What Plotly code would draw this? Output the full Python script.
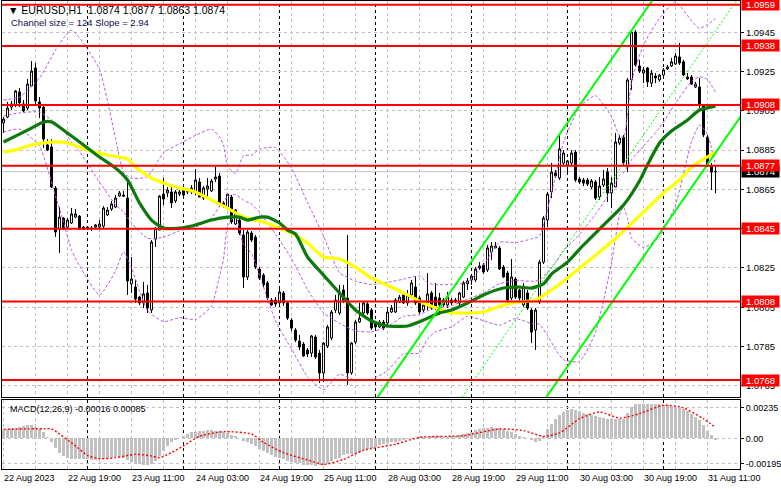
import plotly.graph_objects as go

# ---------------- data (EURUSD H1, 22 Aug 03:00 -> 31 Aug 13:00) ----------------
bars = list(range(179))
opens = [1.08988,1.09018,1.09069,1.09080,1.09146,1.09085,1.09064,1.09176,1.09268,1.09095,
1.09069,1.08876,1.08866,1.08657,1.08448,1.08504,1.08458,1.08479,1.08509,1.08514,
1.08458,1.08458,1.08448,1.08458,1.08458,1.08463,1.08520,1.08550,1.08560,1.08616,
1.08621,1.08606,1.08169,1.08153,1.08102,1.08072,1.08123,1.08036,1.08397,1.08443,
1.08626,1.08632,1.08637,1.08591,1.08626,1.08647,1.08637,1.08637,1.08637,1.08688,
1.08606,1.08652,1.08642,1.08703,1.08718,1.08581,1.08555,1.08611,1.08474,1.08494,
1.08418,1.08204,1.08428,1.08407,1.08245,1.08214,1.08174,1.08087,1.08087,1.08072,
1.08123,1.08072,1.07985,1.07934,1.07878,1.07863,1.07833,1.07817,1.07899,1.07817,
1.07716,1.07853,1.07894,1.08036,1.08021,1.08138,1.08097,1.07716,1.07873,1.07975,
1.08021,1.08067,1.08036,1.07970,1.07950,1.07975,1.07970,1.08026,1.08026,1.08077,
1.08113,1.08072,1.08113,1.08153,1.08097,1.08036,1.08072,1.08123,1.08102,1.08097,
1.08087,1.08062,1.08087,1.08087,1.08072,1.08102,1.08169,1.08189,1.08189,1.08250,
1.08265,1.08240,1.08331,1.08352,1.08352,1.08255,1.08224,1.08097,1.08194,1.08138,
1.08062,1.08123,1.08036,1.07934,1.08077,1.08280,1.08494,1.08637,1.08734,1.08708,
1.08784,1.08774,1.08784,1.08840,1.08703,1.08698,1.08698,1.08662,1.08688,1.08611,
1.08672,1.08739,1.08632,1.08662,1.08886,1.08916,1.08764,1.09207,1.09451,1.09278,
1.09242,1.09268,1.09191,1.09227,1.09207,1.09232,1.09263,1.09278,1.09288,1.09324,
1.09299,1.09222,1.09222,1.09171,1.09171,1.09080,1.08916,1.08769,1.0874]
highs = [1.09018,1.09095,1.09100,1.09156,1.09166,1.09105,1.09212,1.09303,1.09293,1.09120,
1.09080,1.08906,1.08906,1.08667,1.08560,1.08509,1.08504,1.08555,1.08550,1.08520,
1.08463,1.08463,1.08463,1.08474,1.08494,1.08565,1.08560,1.08591,1.08621,1.08642,
1.08642,1.08708,1.08306,1.08189,1.08108,1.08179,1.08164,1.08392,1.08458,1.08621,
1.08708,1.08662,1.08672,1.08647,1.08647,1.08657,1.08657,1.08672,1.08754,1.08708,
1.08667,1.08708,1.08703,1.08764,1.08734,1.08591,1.08626,1.08621,1.08550,1.08509,
1.08443,1.08443,1.08438,1.08418,1.08255,1.08224,1.08184,1.08097,1.08102,1.08143,
1.08133,1.08082,1.07995,1.07944,1.07909,1.07873,1.07843,1.07909,1.07909,1.07833,
1.07873,1.07960,1.08036,1.08113,1.08164,1.08164,1.08418,1.07873,1.07985,1.08072,
1.08082,1.08077,1.08046,1.07980,1.07985,1.07985,1.08051,1.08062,1.08097,1.08113,
1.08128,1.08138,1.08189,1.08209,1.08108,1.08072,1.08224,1.08133,1.08174,1.08123,
1.08097,1.08128,1.08097,1.08097,1.08128,1.08184,1.08199,1.08219,1.08255,1.08280,
1.08275,1.08367,1.08382,1.08382,1.08362,1.08265,1.08235,1.08296,1.08204,1.08143,
1.08174,1.08138,1.08046,1.08046,1.08291,1.08514,1.08637,1.08784,1.08749,1.08927,
1.08850,1.08800,1.08850,1.08850,1.08713,1.08708,1.08708,1.08703,1.08698,1.08713,
1.08749,1.08759,1.08713,1.08937,1.08927,1.08927,1.09217,1.09461,1.09461,1.09309,
1.09273,1.09273,1.09258,1.09242,1.09237,1.09268,1.09283,1.09319,1.09344,1.09395,
1.09309,1.09242,1.09232,1.09197,1.09217,1.09080,1.08927,1.08784,1.0877]
lows = [1.08937,1.09013,1.09054,1.09069,1.09069,1.09044,1.09054,1.09171,1.09080,1.09013,
1.08860,1.08845,1.08657,1.08408,1.08326,1.08443,1.08448,1.08474,1.08504,1.08443,
1.08443,1.08443,1.08438,1.08448,1.08448,1.08448,1.08514,1.08540,1.08555,1.08611,
1.08611,1.08113,1.08123,1.08072,1.08062,1.08046,1.08021,1.08021,1.08357,1.08443,
1.08570,1.08611,1.08555,1.08581,1.08616,1.08611,1.08626,1.08626,1.08621,1.08611,
1.08596,1.08606,1.08637,1.08688,1.08560,1.08555,1.08545,1.08474,1.08469,1.08418,
1.08148,1.08189,1.08382,1.08245,1.08189,1.08153,1.08087,1.08057,1.08052,1.08062,
1.08057,1.07985,1.07929,1.07873,1.07833,1.07797,1.07797,1.07797,1.07787,1.07665,
1.07670,1.07843,1.07883,1.08021,1.08011,1.08072,1.07655,1.07706,1.07863,1.07970,
1.08011,1.08011,1.07934,1.07939,1.07944,1.07934,1.07950,1.08021,1.08021,1.08072,
1.08067,1.08057,1.08102,1.08062,1.08016,1.08026,1.08036,1.08036,1.08036,1.08011,
1.08052,1.08046,1.08062,1.08072,1.08052,1.08097,1.08138,1.08164,1.08179,1.08240,
1.08219,1.08230,1.08291,1.08352,1.08240,1.08199,1.08077,1.08087,1.08092,1.08072,
1.08052,1.08036,1.07868,1.07833,1.08067,1.08270,1.08458,1.08606,1.08708,1.08698,
1.08774,1.08734,1.08774,1.08688,1.08677,1.08667,1.08667,1.08652,1.08596,1.08596,
1.08662,1.08586,1.08555,1.08662,1.08876,1.08774,1.08739,1.09156,1.09273,1.09242,
1.09191,1.09171,1.09171,1.09191,1.09197,1.09222,1.09258,1.09273,1.09283,1.09283,
1.09227,1.09207,1.09181,1.09166,1.09064,1.08916,1.08764,1.08647,1.0863]
closes = [1.09008,1.09064,1.09085,1.09151,1.09090,1.09049,1.09186,1.09252,1.09100,1.09064,
1.08906,1.08850,1.08662,1.08433,1.08509,1.08448,1.08494,1.08525,1.08525,1.08448,
1.08448,1.08448,1.08453,1.08469,1.08474,1.08555,1.08545,1.08576,1.08606,1.08632,
1.08616,1.08184,1.08194,1.08092,1.08072,1.08118,1.08046,1.08382,1.08453,1.08616,
1.08601,1.08647,1.08581,1.08637,1.08637,1.08621,1.08647,1.08657,1.08698,1.08611,
1.08657,1.08667,1.08693,1.08713,1.08581,1.08565,1.08626,1.08484,1.08545,1.08428,
1.08204,1.08433,1.08392,1.08255,1.08199,1.08164,1.08097,1.08062,1.08067,1.08128,
1.08072,1.07995,1.07944,1.07883,1.07848,1.07802,1.07812,1.07904,1.07797,1.07716,
1.07868,1.07950,1.08026,1.08087,1.08128,1.08087,1.07716,1.07868,1.07975,1.07995,
1.08072,1.08021,1.07944,1.07950,1.07975,1.07944,1.08026,1.08046,1.08087,1.08102,
1.08072,1.08113,1.08174,1.08072,1.08026,1.08062,1.08118,1.08046,1.08052,1.08062,
1.08062,1.08102,1.08072,1.08082,1.08123,1.08174,1.08184,1.08209,1.08245,1.08260,
1.08230,1.08352,1.08362,1.08362,1.08245,1.08204,1.08087,1.08204,1.08102,1.08097,
1.08153,1.08046,1.07924,1.08036,1.08280,1.08504,1.08626,1.08738,1.08718,1.08856,
1.08835,1.08795,1.08835,1.08698,1.08688,1.08682,1.08677,1.08693,1.08606,1.08667,
1.08703,1.08632,1.08682,1.08891,1.08911,1.08784,1.09207,1.09451,1.09283,1.09252,
1.09258,1.09197,1.09242,1.09217,1.09232,1.09258,1.09273,1.09299,1.09329,1.09293,
1.09232,1.09212,1.09186,1.09186,1.09080,1.08927,1.08774,1.08738,1.0874]

tick_bars = [0, 16, 32, 48, 64, 80, 96, 112, 128, 144, 160, 176]
tick_labels = ["22 Aug 2023", "22 Aug 19:00", "23 Aug 11:00", "24 Aug 03:00", "24 Aug 19:00",
               "25 Aug 11:00", "28 Aug 03:00", "28 Aug 19:00", "29 Aug 11:00", "30 Aug 03:00",
               "30 Aug 19:00", "31 Aug 11:00"]
day_start_bars = [21, 45, 69, 93, 117, 141, 165]

ma_green_bars = [0,3,7,10,12,16,21,24,28,31,34,37,40,44,48,52,56,59,61,64,66,69,71,73,76,80,84,88,92,96,
                 101,105,109,112,116,120,125,129,132,135,137,141,145,149,155,159,161,164,167,171,174,178]
ma_green = [1.08891,1.08921,1.08962,1.08993,1.08993,1.08937,1.08861,1.08815,1.08759,1.08698,
            1.08581,1.08494,1.08453,1.08453,1.08469,1.08494,1.08509,1.08509,1.08494,1.08509,
            1.08509,1.08479,1.08443,1.08423,1.08306,1.08214,1.08123,1.08036,1.07980,1.07955,
            1.07955,1.07985,1.08021,1.08036,1.08072,1.08113,1.08148,1.08153,1.08148,1.08169,
            1.08219,1.08280,1.08367,1.08448,1.08570,1.08693,1.08775,1.08886,1.08947,1.09003,
            1.09054,1.09074]
ma_yellow_bars = [0,3,7,12,16,21,26,31,33,37,40,44,48,52,56,60,65,69,72,76,80,84,88,92,97,101,105,109,
                  112,116,120,125,129,133,137,141,145,149,154,160,165,169,172,178]
ma_yellow = [1.08840,1.08851,1.08876,1.08891,1.08886,1.08851,1.08825,1.08805,1.08764,1.08708,
             1.08683,1.08657,1.08637,1.08596,1.08555,1.08509,1.08484,1.08453,1.08428,1.08377,
             1.08306,1.08296,1.08255,1.08199,1.08153,1.08113,1.08072,1.08041,1.08021,1.08021,
             1.08026,1.08062,1.08077,1.08087,1.08138,1.08199,1.08265,1.08331,1.08418,1.08535,
             1.08632,1.08698,1.08764,1.08840]

bb_bars = [0,4,9,13,15,17,19,24,28,30,32,36,40,44,48,52,54,55,56,58,60,62,64,68,72,76,80,84,88,92,96,
           100,104,106,108,112,116,120,124,128,132,134,136,138,140,144,148,152,154,155,156,157,160,164,
           168,172,174,176,178]
bb_upper = [1.09105,1.09120,1.09217,1.09359,1.09420,1.09461,1.09422,1.09261,1.08910,1.08739,1.08706,
            1.08715,1.08836,1.08882,1.08925,1.08957,1.08918,1.08877,1.08769,1.08731,1.08822,1.08824,
            1.08855,1.08863,1.08758,1.08584,1.08413,1.08226,1.08183,1.08166,1.08177,1.08193,1.08210,
            1.08175,1.08165,1.08167,1.08179,1.08265,1.08381,1.08379,1.08398,1.08412,1.08547,1.08718,
            1.08890,1.09069,1.09127,1.09020,1.08923,1.08912,1.09029,1.09198,1.09386,1.09520,1.09605,
            1.09508,1.09469,1.09489,1.09519]
bb_middle = [1.09023,1.09039,1.09044,1.08988,1.08952,1.08891,1.08842,1.08687,1.08572,1.08536,1.08479,
             1.08401,1.08407,1.08439,1.08457,1.08506,1.08563,1.08586,1.08614,1.08624,1.08595,1.08575,
             1.08534,1.08422,1.08298,1.08141,1.08022,1.07968,1.07930,1.07925,1.07952,1.08004,1.08013,
             1.08032,1.08045,1.08058,1.08091,1.08123,1.08170,1.08186,1.08182,1.08188,1.08227,1.08277,
             1.08337,1.08421,1.08524,1.08647,1.08722,1.08736,1.08765,1.08801,1.08870,1.08963,1.09088,
             1.09200,1.09223,1.09209,1.09146]
bb_lower = [1.08942,1.08957,1.08871,1.08616,1.08484,1.08341,1.08262,1.08113,1.08234,1.08333,1.08252,
            1.08033,1.07977,1.07997,1.07988,1.08056,1.08208,1.08295,1.08462,1.08517,1.08368,1.08325,
            1.08213,1.07981,1.07838,1.07697,1.07631,1.07709,1.07678,1.07683,1.07727,1.07814,1.07817,
            1.07890,1.07925,1.07950,1.08004,1.07982,1.07959,1.07993,1.07967,1.07964,1.07906,1.07836,
            1.07783,1.07774,1.07922,1.08275,1.08521,1.08560,1.08501,1.08403,1.08354,1.08407,1.08571,
            1.08892,1.08978,1.08929,1.08774]

macd_main = [0.00066,0.00073,0.00079,0.00084,0.00086,0.00094,0.00100,0.00100,0.00086,0.00073,0.00047,
 0.00008,-0.00031,-0.00071,-0.00110,-0.00136,-0.00149,-0.00157,-0.00162,-0.00162,-0.00162,
 -0.00162,-0.00168,-0.00168,-0.00162,-0.00157,-0.00149,-0.00144,-0.00141,-0.00144,-0.00149,
 -0.00165,-0.00180,-0.00192,-0.00199,-0.00202,-0.00204,-0.00195,
 -0.00176,-0.00136,-0.00097,-0.00058,-0.00031,-0.00010,0.00005,
 0.00021,0.00034,0.00047,0.00052,0.00058,0.00060,0.00063,0.00063,0.00060,0.00058,0.00052,0.00042,0.00026,
 0.00016,0.00000,-0.00018,-0.00031,
 -0.00045,-0.00058,-0.00079,-0.00097,-0.00115,-0.00131,-0.00141,-0.00152,-0.00162,-0.00173,-0.00181,
 -0.00189,-0.00194,-0.00202,-0.00204,-0.00207,-0.00210,-0.00207,
 -0.00202,
 -0.00189,-0.00176,-0.00162,-0.00149,-0.00131,-0.00123,-0.00123,-0.00115,-0.00105,-0.00092,-0.00084,
 -0.00073,-0.00063,-0.00052,-0.00045,-0.00037,-0.00031,-0.00026,-0.00018,-0.00010,
 -0.00005,0.00000,0.00005,0.00008,0.00010,0.00013,0.00016,0.00016,0.00016,0.00013,0.00013,0.00016,
 0.00021,0.00026,0.00034,
 0.00042,0.00052,0.00063,0.00073,0.00079,0.00084,0.00086,0.00084,0.00079,0.00073,0.00060,0.00047,0.00031,
 0.00021,0.00008,0.00000,-0.00010,-0.00026,-0.00018,
 0.00021,0.00073,0.00113,0.00152,0.00183,0.00204,0.00217,0.00225,
 0.00217,0.00210,0.00199,0.00189,0.00178,0.00170,0.00162,0.00157,0.00152,0.00152,0.00152,0.00147,0.00152,
 0.00199,0.00244,0.00262,0.00267,0.00267,0.00265,0.00265,0.00262,0.00262,0.00257,0.00257,
 0.00252,0.00244,0.00236,0.00225,0.00210,0.00191,0.00165,0.00139,0.00105,0.00060,0.00026,-0.00016]
macd_signal_bars = [0,10,12,18,21,24,28,33,37,39,42,45,49,55,62,65,70,77,80,85,90,98,104,115,124,130,
                    135,139,144,149,154,159,165,170,175,178]
macd_signal = [0.00070,0.00075,0.00073,-0.00058,-0.00131,-0.00157,-0.00149,-0.00123,-0.00136,-0.00149,
               -0.00110,-0.00058,0.00016,0.00052,0.00034,-0.00031,-0.00110,-0.00176,-0.00202,-0.00162,
               -0.00092,-0.00045,0.00008,0.00021,0.00073,0.00060,0.00016,0.00042,0.00152,0.00204,
               0.00157,0.00191,0.00257,0.00236,0.00152,0.00085]

levels = [1.0959, 1.0938, 1.0908, 1.0877, 1.0845, 1.0808, 1.0768]
price_ticks = [1.0765, 1.0785, 1.0805, 1.0825, 1.0845, 1.0865, 1.0885, 1.0905, 1.0925, 1.0945]
macd_ticks = [-0.00195, 0.0, 0.00235]
macd_tick_text = ["-0.00195", "0.00", "0.00235"]

channel_anchor_bar = 150
channel_anchor_price = 1.09253     # upper channel border at anchor bar
channel_slope_pips = 2.94
channel_size_pips = 124
channel_bars = [85, 190]

# ---------------- figure ----------------
FONT = "Liberation Sans, Arial, sans-serif"
GRID = "#C0C0C0"
fig = go.Figure()

for band in (bb_upper, bb_middle, bb_lower):
    fig.add_trace(go.Scatter(x=bb_bars, y=band, mode="lines", hoverinfo="skip",
                             line=dict(color="#B45AE0", width=1, dash="3px,2px",
                                       shape="spline", smoothing=0.5),
                             xaxis="x", yaxis="y"))

fig.add_trace(go.Scatter(x=ma_yellow_bars, y=ma_yellow, mode="lines", hoverinfo="skip",
                         line=dict(color="#FFFF00", width=3.2, shape="spline", smoothing=0.6),
                         xaxis="x", yaxis="y"))
fig.add_trace(go.Scatter(x=ma_green_bars, y=ma_green, mode="lines", hoverinfo="skip",
                         line=dict(color="#0B7A0B", width=3.2, shape="spline", smoothing=0.6),
                         xaxis="x", yaxis="y"))

fig.add_trace(go.Candlestick(x=bars, open=opens, high=highs, low=lows, close=closes,
                             increasing=dict(fillcolor="white", line=dict(color="black", width=1)),
                             decreasing=dict(fillcolor="black", line=dict(color="black", width=1)),
                             whiskerwidth=0, hoverinfo="skip", xaxis="x", yaxis="y"))

slope = channel_slope_pips / 10000.0
size = channel_size_pips / 10000.0
ch_upper = [channel_anchor_price + slope * (b - channel_anchor_bar) for b in channel_bars]
ch_lower = [u - size for u in ch_upper]
ch_mid = [u - size / 2 for u in ch_upper]
for ys, w, d in ((ch_upper, 2, "solid"), (ch_lower, 2, "solid"), (ch_mid, 1, "2px,2px")):
    fig.add_trace(go.Scatter(x=channel_bars, y=ys, mode="lines", hoverinfo="skip",
                             line=dict(color="#00FF00", width=w, dash=d),
                             xaxis="x", yaxis="y"))

fig.add_trace(go.Bar(x=bars, y=macd_main, width=0.62, hoverinfo="skip",
                     marker=dict(color="#C0C0C0", line=dict(width=0)),
                     xaxis="x2", yaxis="y2"))
fig.add_trace(go.Scatter(x=macd_signal_bars, y=macd_signal, mode="lines", hoverinfo="skip",
                         line=dict(color="#FF0000", width=1.4, dash="2px,2px", shape="spline", smoothing=0.6),
                         xaxis="x2", yaxis="y2"))

# period separators
for b in day_start_bars:
    for xr_, yr_ in (("x", "y domain"), ("x2", "y2 domain")):
        fig.add_shape(type="line", xref=xr_, yref=yr_, x0=b, x1=b, y0=0, y1=1,
                      line=dict(color="black", width=1, dash="3px,3px"), layer="below")

# bid line
fig.add_shape(type="line", xref="x domain", yref="y", x0=0, x1=1, y0=closes[-1], y1=closes[-1],
              line=dict(color="#C0C0C0", width=1), layer="below")

# horizontal levels
for lv in levels:
    fig.add_shape(type="line", xref="x domain", yref="y", x0=0, x1=1, y0=lv, y1=lv,
                  line=dict(color="#FF0000", width=2), layer="above")

grid_bars = list(range(0, 184, 8))
grid_text = []
for b in grid_bars:
    grid_text.append(tick_labels[tick_bars.index(b)] if b in tick_bars else "")

xr = [-0.375, 184.125]
axis_common = dict(showline=True, mirror=True, linecolor="black", linewidth=1, zeroline=False,
                   fixedrange=True)
fig.update_layout(
    width=781, height=489, margin=dict(l=2, r=41, t=1, b=20),
    paper_bgcolor="white", plot_bgcolor="white", showlegend=False, bargap=0,
    font=dict(family=FONT, size=9, color="black"),
    xaxis=dict(domain=[0, 1], anchor="y", range=xr, tickvals=grid_bars[1:], showticklabels=False,
               ticks="", showgrid=True, gridcolor=GRID, griddash="3px,3px", gridwidth=1,
               rangeslider=dict(visible=False), **axis_common),
    yaxis=dict(domain=[0.15385, 1], anchor="x", range=[1.075935, 1.096087], side="right",
               tickvals=price_ticks, ticktext=[f"{t:.4f}" for t in price_ticks],
               ticks="outside", ticklen=3, tickcolor="black",
               tickfont=dict(family=FONT, size=9.5, color="black"),
               showgrid=True, gridcolor=GRID, griddash="3px,3px", **axis_common),
    xaxis2=dict(domain=[0, 1], anchor="y2", range=xr, matches="x", tickvals=grid_bars,
                ticktext=grid_text, ticks="", ticklabelposition="outside right",
                tickfont=dict(family=FONT, size=9, color="black"),
                showgrid=True, gridcolor=GRID, griddash="3px,3px", **axis_common),
    yaxis2=dict(domain=[0, 0.14744], anchor="x2", range=[-0.002365, 0.002968], side="right",
                tickvals=macd_ticks, ticktext=macd_tick_text, ticks="outside", ticklen=3,
                tickcolor="black", tickfont=dict(family=FONT, size=9, color="black"),
                showgrid=True, gridcolor=GRID, griddash="3px,3px", **axis_common),
)

annotations = []
# bid label (partly hidden under red level label)
annotations.append(dict(xref="paper", yref="y", x=1, y=closes[-1], xanchor="left", yanchor="middle",
                        xshift=1, text=f"{closes[-1]:.4f}", showarrow=False, bgcolor="black",
                        font=dict(family=FONT, size=9.5, color="white"), width=35, height=9,
                        borderpad=1, align="center"))
for lv in levels:
    annotations.append(dict(xref="paper", yref="y", x=1, y=lv, xanchor="left", yanchor="middle",
                            xshift=1, text=f"{lv:.4f}", showarrow=False, bgcolor="#FF0000",
                            font=dict(family=FONT, size=9.5, color="white"), width=35, height=9,
                            borderpad=1, align="center"))
header = f"▼ EURUSD,H1  {opens[-1]:.4f} {highs[-1]:.4f} {lows[-1]:.4f} {closes[-1]:.4f}"
annotations.append(dict(xref="paper", yref="paper", x=0.0054, y=0.9808, xanchor="left",
                        yanchor="middle", text=header, showarrow=False,
                        font=dict(family=FONT, size=10.5, color="black")))
annotations.append(dict(xref="paper", yref="paper", x=0.0095, y=0.955, xanchor="left",
                        yanchor="middle",
                        text=f"Channel size = {channel_size_pips} Slope = {channel_slope_pips}",
                        showarrow=False, font=dict(family=FONT, size=9.5, color="#101050")))
annotations.append(dict(xref="paper", yref="paper", x=0.0075, y=0.1285, xanchor="left",
                        yanchor="middle",
                        text=f"MACD(12,26,9) {macd_main[-1]:.5f} {macd_signal[-1]:.5f}",
                        showarrow=False, font=dict(family=FONT, size=9, color="black")))
fig.update_layout(annotations=annotations)

fig.write_html("out.html", config={"displayModeBar": False, "staticPlot": True},
               post_script="document.body.style.margin='0';document.body.style.padding='0';")
